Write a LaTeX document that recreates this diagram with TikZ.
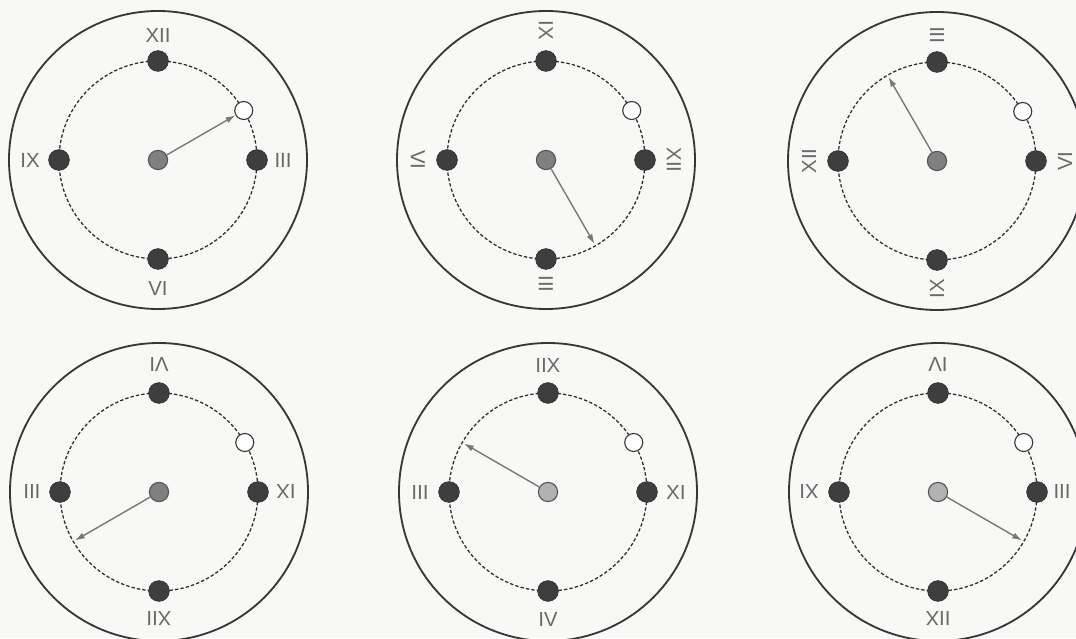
\documentclass[tikz,border=0pt]{standalone}
\usepackage{fontspec}
\setmainfont{Liberation Sans}
\usepackage{xcolor}
\usepackage{tikz}
\usetikzlibrary{arrows.meta}
\definecolor{PaperBg}{RGB}{248, 248, 246}
\definecolor{RimGray}{RGB}{55, 55, 55}
\definecolor{TrackGray}{RGB}{45, 45, 45}
\definecolor{DotGray}{RGB}{62, 62, 62}
\definecolor{DotEdge}{RGB}{40, 40, 40}
\definecolor{HubGray}{RGB}{128, 128, 128}
\definecolor{HubLight}{RGB}{178, 178, 178}
\definecolor{HubEdge}{RGB}{85, 85, 85}
\definecolor{HandGray}{RGB}{120, 120, 120}
\definecolor{NumGray}{RGB}{105, 105, 105}

\begin{document}
\begin{tikzpicture}[x=0.025cm, y=0.025cm,
    rim/.style={draw=RimGray, line width=1.3pt},
    track/.style={draw=TrackGray, line width=0.9pt, dash pattern=on 2.4pt off 1.5pt},
    tick/.style={circle, draw=DotEdge, fill=DotGray, minimum size=0.52cm, inner sep=0pt},
    hub/.style={circle, draw=HubEdge, line width=0.8pt, fill=HubGray, minimum size=0.48cm, inner sep=0pt},
    hublight/.style={hub, fill=HubLight},
    openmark/.style={circle, draw=RimGray, line width=0.8pt, fill=white, minimum size=0.45cm, inner sep=0pt},
    hand/.style={-{Latex[length=7pt,width=4.5pt]}, draw=HandGray, line width=1pt},
    numeral/.style={text=NumGray, font=\fontsize{14.5}{14.5}\selectfont, inner sep=0pt}]

    \useasboundingbox (0,0) rectangle (1076,638);
    \clip (0,0) rectangle (1076,638);
    \fill[PaperBg] (0,0) rectangle (1076,638);

    % Clock 1: upright
    \begin{scope}[shift={(158,478)}]
        \node[hub] (ah) at (0,0) {};
        \draw[rim] (ah) circle (149);
        \draw[track] (ah) circle (99);
        \node[tick] (a12) at (90:99) {};
        \node[tick] (a3) at (0:99) {};
        \node[tick] (a6) at (270:99) {};
        \node[tick] (a9) at (180:99) {};
        \node[openmark] (aw) at (30:99) {};
        \node[numeral] (a12l) at (90:125) {XII};
        \node[numeral] (a3l) at (0:125) {III};
        \node[numeral] (a6l) at (270:128) {VI};
        \node[numeral] (a9l) at (180:128) {IX};
        \draw[hand] (ah) -- (aw);
    \end{scope}

    % Clock 2: turned a quarter clockwise
    \begin{scope}[shift={(546,478)}]
        \node[hub] (bh) at (0,0) {};
        \draw[rim] (bh) circle (149);
        \draw[track] (bh) circle (99);
        \node[tick] (b9) at (90:99) {};
        \node[tick] (b12) at (0:99) {};
        \node[tick] (b3) at (270:99) {};
        \node[tick] (b6) at (180:99) {};
        \node[openmark] (bw) at (30:99) {};
        \node[numeral, rotate=-90] (b9l) at (90:130) {IX};
        \node[numeral, rotate=-90] (b12l) at (0:128) {XII};
        \node[numeral, rotate=-90] (b3l) at (270:124) {III};
        \node[numeral, rotate=-90] (b6l) at (180:128) {VI};
        \coordinate (bt) at (-60:97);
        \draw[hand] (bh) -- (bt);
    \end{scope}

    % Clock 3: turned a quarter anticlockwise
    \begin{scope}[shift={(937,477)}]
        \node[hub] (ch) at (0,0) {};
        \draw[rim] (ch) circle (149);
        \draw[track] (ch) circle (99);
        \node[tick] (c3) at (90:99) {};
        \node[tick] (c6) at (0:99) {};
        \node[tick] (c9) at (270:99) {};
        \node[tick] (c12) at (180:99) {};
        \node[openmark] (cw) at (30:99) {};
        \node[numeral, rotate=90] (c3l) at (90:126) {III};
        \node[numeral, rotate=90] (c6l) at (0:128) {VI};
        \node[numeral, rotate=90] (c9l) at (270:128) {IX};
        \node[numeral, rotate=90] (c12l) at (180:128) {XII};
        \coordinate (ct) at (120:97);
        \draw[hand] (ch) -- (ct);
    \end{scope}

    % Clock 4: upside down
    \begin{scope}[shift={(159,146)}]
        \node[hub] (dh) at (0,0) {};
        \draw[rim] (dh) circle (149);
        \draw[track] (dh) circle (99);
        \node[tick] (d6) at (90:99) {};
        \node[tick] (d9) at (0:99) {};
        \node[tick] (d12) at (270:99) {};
        \node[tick] (d3) at (180:99) {};
        \node[openmark] (dw) at (30:99) {};
        \node[numeral, rotate=180] (d6l) at (90:127) {VI};
        \node[numeral, rotate=180] (d9l) at (0:127) {IX};
        \node[numeral, rotate=180] (d12l) at (270:127) {XII};
        \node[numeral, rotate=180] (d3l) at (180:127) {III};
        \coordinate (dt) at (210:97);
        \draw[hand] (dh) -- (dt);
    \end{scope}

    % Clock 5: mirrored left to right
    \begin{scope}[shift={(548,146)}]
        \node[hublight] (eh) at (0,0) {};
        \draw[rim] (eh) circle (149);
        \draw[track] (eh) circle (99);
        \node[tick] (e12) at (90:99) {};
        \node[tick] (e9) at (0:99) {};
        \node[tick] (e6) at (270:99) {};
        \node[tick] (e3) at (180:99) {};
        \node[openmark] (ew) at (30:99) {};
        \node[numeral, xscale=-1] (e12l) at (90:127) {XII};
        \node[numeral, xscale=-1] (e9l) at (0:128) {IX};
        \node[numeral, xscale=-1] (e6l) at (270:127) {VI};
        \node[numeral, xscale=-1] (e3l) at (180:128) {III};
        \coordinate (et) at (150:97);
        \draw[hand] (eh) -- (et);
    \end{scope}

    % Clock 6: mirrored top to bottom
    \begin{scope}[shift={(938,146)}]
        \node[hublight] (fh) at (0,0) {};
        \draw[rim] (fh) circle (149);
        \draw[track] (fh) circle (99);
        \node[tick] (f6) at (90:99) {};
        \node[tick] (f3) at (0:99) {};
        \node[tick] (f12) at (270:99) {};
        \node[tick] (f9) at (180:99) {};
        \node[openmark] (fw) at (30:99) {};
        \node[numeral, yscale=-1] (f6l) at (90:127) {VI};
        \node[numeral, yscale=-1] (f3l) at (0:124) {III};
        \node[numeral, yscale=-1] (f12l) at (270:127) {XII};
        \node[numeral, yscale=-1] (f9l) at (180:129) {IX};
        \coordinate (ft) at (-30:97);
        \draw[hand] (fh) -- (ft);
    \end{scope}
\end{tikzpicture}
\end{document}
